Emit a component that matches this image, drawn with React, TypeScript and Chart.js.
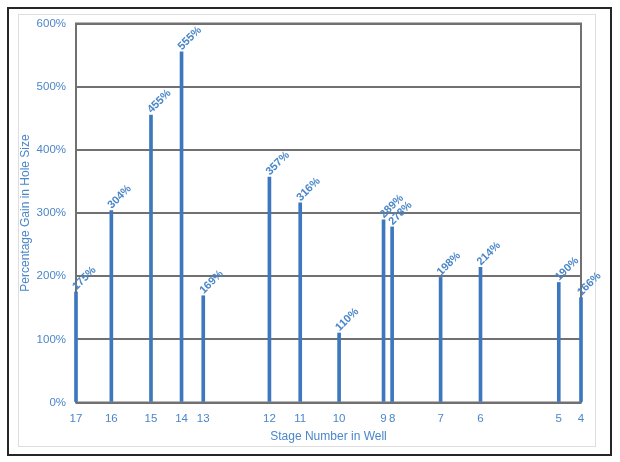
import React, { useEffect, useRef } from "react";
import { Chart, registerables } from "chart.js";

Chart.register(...registerables);

// Stage numbers along the well, their relative position along the lateral (0-100), and % gain
const stages = ["17", "16", "15", "14", "13", "12", "11", "10", "9", "8", "7", "6", "5", "4"];
const stagePositions = [0, 7.0, 14.85, 20.9, 25.2, 38.3, 44.4, 52.1, 60.9, 62.6, 72.2, 80.1, 95.6, 100];
const gains = [175, 304, 455, 555, 169, 357, 316, 110, 289, 278, 198, 214, 190, 166];
const yTicks = [0, 100, 200, 300, 400, 500, 600];

const BLUE = "#3d78bf";
const TEXT_BLUE = "#4a86c8";
const GRID = "#717171";
const FONT = "'Liberation Sans', Arial, Helvetica, sans-serif";

export default function App() {
  const ref = useRef<HTMLCanvasElement | null>(null);

  useEffect(() => {
    if (!ref.current) return;

    const frame = {
      id: "frame",
      beforeDatasetsDraw(chart: any) {
        const { ctx, chartArea: a } = chart;
        ctx.save();
        ctx.strokeStyle = GRID;
        ctx.lineWidth = 2;
        ctx.strokeRect(a.left, a.top, a.right - a.left, a.bottom - a.top);
        ctx.restore();
      },
    };

    const labels = {
      id: "valueLabels",
      afterDatasetsDraw(chart: any) {
        const { ctx } = chart;
        const meta = chart.getDatasetMeta(0);
        ctx.save();
        ctx.fillStyle = TEXT_BLUE;
        ctx.font = `bold 11px ${FONT}`;
        ctx.textAlign = "left";
        ctx.textBaseline = "alphabetic";
        meta.data.forEach((el: any, i: number) => {
          ctx.save();
          ctx.translate(el.x + 0.5, el.y - 1.5);
          ctx.rotate(-Math.PI / 4);
          ctx.fillText(gains[i] + "%", 0, 0);
          ctx.restore();
        });
        ctx.restore();
      },
    };

    const chart = new Chart(ref.current, {
      type: "bar",
      data: {
        datasets: [
          {
            data: stagePositions.map((p, i) => ({ x: p, y: gains[i] })),
            backgroundColor: BLUE,
            barThickness: 3,
            clip: false as any,
          },
        ],
      },
      options: {
        animation: false,
        responsive: false,
        maintainAspectRatio: false,
        layout: { padding: { top: 23.5, left: 14, right: 39, bottom: 14 } },
        plugins: { legend: { display: false }, tooltip: { enabled: false } },
        scales: {
          x: {
            type: "linear",
            min: 0,
            max: 100,
            offset: false,
            grid: { display: false, drawTicks: false },
            border: { display: false },
            afterBuildTicks: (scale: any) => {
              scale.ticks = stagePositions.map((v) => ({ value: v }));
            },
            afterFit: (scale: any) => {
              scale.height = 462 - 14 - 402.5;
            },
            ticks: {
              autoSkip: false,
              maxRotation: 0,
              padding: 9,
              color: TEXT_BLUE,
              font: { family: FONT, size: 11.5 },
              callback: (value: any) => {
                const i = stagePositions.indexOf(Number(value));
                return i >= 0 ? stages[i] : "";
              },
            },
            title: {
              display: true,
              text: "Stage Number in Well",
              color: TEXT_BLUE,
              font: { family: FONT, size: 12 },
              padding: { top: 0, bottom: 4 },
            },
          },
          y: {
            min: 0,
            max: 600,
            afterBuildTicks: (scale: any) => {
              scale.ticks = yTicks.map((v) => ({ value: v }));
            },
            afterFit: (scale: any) => {
              scale.width = 76 - 14;
            },
            grid: { color: GRID, lineWidth: 2, drawTicks: false },
            border: { display: false },
            ticks: {
              padding: 10,
              color: TEXT_BLUE,
              font: { family: FONT, size: 11.5 },
              callback: (v: any) => v + "%",
            },
            title: {
              display: true,
              text: "Percentage Gain in Hole Size",
              color: TEXT_BLUE,
              font: { family: FONT, size: 12 },
              padding: { top: 4, bottom: 4 },
            },
          },
        },
      },
      plugins: [frame, labels],
    } as any);

    return () => chart.destroy();
  }, []);

  return (
    <div style={{ position: "absolute", left: 0, top: 0, width: 620, height: 462, background: "#fff" }}>
      <div
        style={{
          position: "absolute",
          left: 7,
          top: 7,
          width: 601,
          height: 445,
          border: "2px solid #262626",
        }}
      />
      <div
        style={{
          position: "absolute",
          left: 18,
          top: 14,
          width: 576,
          height: 431,
          border: "1px solid #dedede",
        }}
      />
      <canvas ref={ref} width={620} height={462} style={{ position: "absolute", left: 0, top: 0 }} />
    </div>
  );
}
